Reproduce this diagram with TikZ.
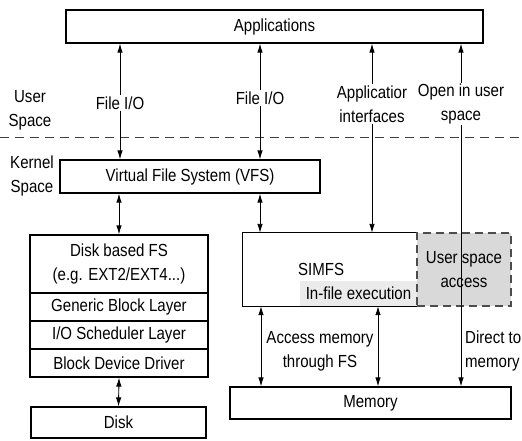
\documentclass[tikz,border=0pt]{standalone}
\usepackage{fontspec}
\setmainfont[FakeStretch=0.86]{Liberation Sans}
\usetikzlibrary{arrows.meta}
\definecolor{usagray}{HTML}{D9D9D9}
\definecolor{ifegray}{HTML}{EBEBEB}
\begin{document}
\begin{tikzpicture}[x=1pt,y=-1pt,
  font=\fontsize{17.5}{24}\selectfont,
  box/.style={draw,line width=1.2pt,inner sep=0pt,align=center},
  lbl/.style={align=center,inner sep=1pt},
  tip/.style={-{Latex[length=9pt,width=5.5pt]},line width=0.9pt},
  dbl/.style={{Latex[length=9pt,width=5.5pt]}-{Latex[length=9pt,width=5.5pt]},line width=0.9pt}]
\useasboundingbox (0,0) rectangle (522,440);

\node[box,minimum width=417pt,minimum height=33pt] (app) at (274.5,26.5) {Applications};
\node[box,minimum width=260pt,minimum height=33pt] (vfs) at (190,176.5) {Virtual File System (VFS)};

\node[box,minimum width=178pt,minimum height=58pt] (dfs) at (119,264) {Disk based FS\\(e.g. EXT2/EXT4...)};
\node[box,minimum width=178pt,minimum height=28pt] (gbl) at (119,307) {Generic Block Layer};
\node[box,minimum width=178pt,minimum height=28pt] (ios) at (119,335) {I/O Scheduler Layer};
\node[box,minimum width=178pt,minimum height=28pt] (bdd) at (119,363) {Block Device Driver};
\node[box,minimum width=175pt,minimum height=31pt] (disk) at (118.5,422.5) {Disk};

\node[inner sep=0pt,minimum width=174pt,minimum height=73pt] (simfs) at (330,269.5) {};
\node[anchor=west,inner sep=0pt] (simlbl) at (298,269) {SIMFS};
\node[fill=ifegray,anchor=south east,inner sep=0pt,minimum width=117pt,minimum height=25pt] (ife) at (simfs.south east) {In-file execution};
\draw[line width=1.2pt] (simfs.north east) -- (simfs.north west) -- (simfs.south west) -- (simfs.south east);
\node[box,fill=usagray,draw=black!70,dashed,dash pattern=on 8pt off 5pt,minimum width=94pt,minimum height=73pt] (usa) at (464,269.5) {User space\\access};

\node[box,minimum width=281pt,minimum height=32pt] (mem) at (370.5,403) {Memory};

% user / kernel border
\draw[black!75,line width=1pt,dash pattern=on 9pt off 6pt] (0,137) -- (522,137);
\node[lbl] (us) at (30,110) {User\\Space};
\node[lbl] (ks) at (32,176) {Kernel\\Space};

\node[lbl] (fio1) at (120,103) {File I/O};
\node[lbl] (fio2) at (260,98) {File I/O};
\node[lbl] (api) at (372,104) {Applicatior\\interfaces};
\node[lbl] (ous) at (461,104) {Open in user\\space};

\draw[tip] (fio1.north) -- (fio1 |- app.south);
\draw[tip] (fio1.south) -- (fio1 |- vfs.north);
\draw[tip] (fio2.north) -- (fio2 |- app.south);
\draw[tip] (fio2.south) -- (fio2 |- vfs.north);
\draw[tip] (api.north) -- (api |- app.south);
\draw[tip] (api.south) -- (api |- simfs.north);
\draw[tip] (ous.north) -- (ous |- app.south);
\draw[tip] (ous.south) -- (ous |- mem.north);

\draw[dbl] (dfs |- vfs.south) -- (dfs.north);
\draw[dbl] (fio2 |- vfs.south) -- (fio2 |- simfs.north);
\draw[dbl] (bdd.south) -- (disk.north);

\draw[dbl] (simfs.south -| 261,0) -- (mem.north -| 261,0);
\draw[dbl] (simfs.south -| 378,0) -- (mem.north -| 378,0);
\node[lbl] (amfs) at (320,351) {Access memory\\through FS};
\node[lbl,anchor=west,align=left] (dtm) at (464,351) {Direct to\\memory};
\end{tikzpicture}
\end{document}
